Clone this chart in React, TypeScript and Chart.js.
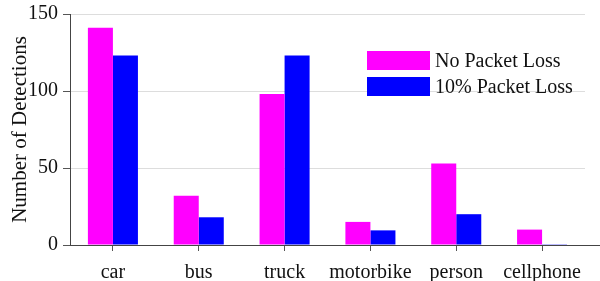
import React, { useEffect, useRef } from "react";
import { Chart, registerables } from "chart.js";

Chart.register(...registerables);

const categories = ["car", "bus", "truck", "motorbike", "person", "cellphone"];
const noLoss = [141, 32, 98, 15, 53, 10];
const tenLoss = [123, 18, 123, 9.5, 20, 0.5];
const seriesNames = ["No Packet Loss", "10% Packet Loss"];
const seriesColors = ["#FF00FF", "#0000FF"];
const yTicks = [0, 50, 100, 150];

const FONT = "'Liberation Serif', 'Times New Roman', serif";

const legendPlugin = {
  id: "insideLegend",
  afterDraw(chart: any) {
    const { ctx, chartArea } = chart;
    ctx.save();
    ctx.strokeStyle = "#444";
    ctx.lineWidth = 1;
    ctx.beginPath();
    ctx.moveTo(chartArea.right, chartArea.bottom + 0.5);
    ctx.lineTo(chart.width, chartArea.bottom + 0.5);
    ctx.stroke();
    const bx = chartArea.left + 297;
    const by = chartArea.top + 37;
    const bw = 63;
    const bh = 19;
    const gap = 7;
    ctx.font = `20px ${FONT}`;
    ctx.textBaseline = "middle";
    ctx.textAlign = "left";
    seriesNames.forEach((name, i) => {
      const y = by + i * (bh + gap);
      ctx.fillStyle = seriesColors[i];
      ctx.fillRect(bx, y, bw, bh);
      ctx.fillStyle = "#111";
      ctx.fillText(name, bx + bw + 5, y + bh / 2 + 1);
    });
    ctx.restore();
  },
};

export default function App() {
  const ref = useRef<HTMLCanvasElement>(null);
  useEffect(() => {
    document.body.style.margin = "0";
    const chart = new Chart(ref.current!, {
      type: "bar",
      data: {
        labels: categories,
        datasets: [
          { label: seriesNames[0], data: noLoss, backgroundColor: seriesColors[0], borderWidth: 0 },
          { label: seriesNames[1], data: tenLoss, backgroundColor: seriesColors[1], borderWidth: 0 },
        ],
      },
      options: {
        animation: false,
        responsive: false,
        layout: { padding: { top: 14, right: 15, left: 0, bottom: 0 } },
        plugins: { legend: { display: false }, tooltip: { enabled: false } },
        datasets: { bar: { barPercentage: 1, categoryPercentage: 0.583 } },
        scales: {
          x: {
            grid: { display: true, offset: false, drawOnChartArea: false, tickLength: 6, tickColor: "#555" },
            border: { color: "#444", width: 1 },
            ticks: { font: { family: FONT, size: 20 }, color: "#111", padding: 10, maxRotation: 0 },
            afterFit: (s: any) => { s.height = 36; },
          },
          y: {
            min: 0,
            max: 150,
            afterBuildTicks: (s: any) => { s.ticks = yTicks.map((v) => ({ value: v })); },
            grid: { color: "#dddddd", tickColor: "#555", tickLength: 7 },
            border: { color: "#444", width: 1 },
            ticks: { font: { family: FONT, size: 20 }, color: "#111", padding: 5 },
            title: { display: true, text: "Number of Detections", font: { family: FONT, size: 21 }, color: "#111", padding: { top: 8, bottom: 0 } },
            afterFit: (s: any) => { s.width = 70; s.paddingTop = 0; s.paddingBottom = 0; },
          },
        },
      },
      plugins: [legendPlugin],
    });
    return () => chart.destroy();
  }, []);
  return (
    <div style={{ width: 600, height: 281 }}>
      <canvas ref={ref} width={600} height={281} style={{ width: 600, height: 281 }} />
    </div>
  );
}
